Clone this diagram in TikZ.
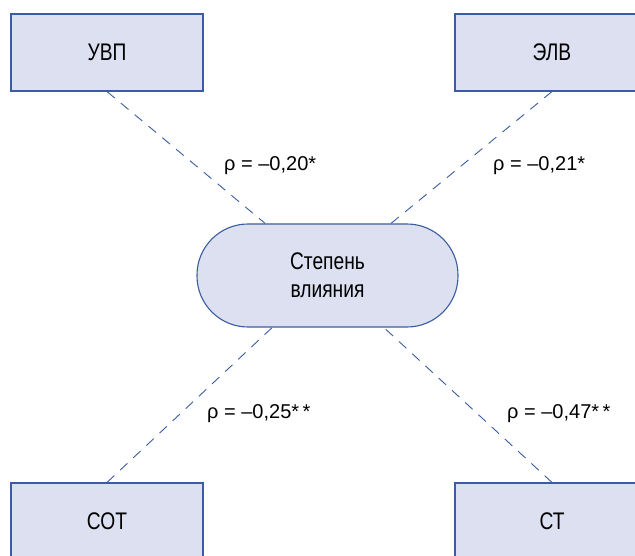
\documentclass[tikz,border=0pt]{standalone}
\usepackage{fontspec}
\setmainfont{Liberation Sans}
\newfontfamily\narrowfont[FakeStretch=0.8]{Liberation Sans}
\definecolor{boxfill}{RGB}{220,224,241}
\definecolor{boxline}{RGB}{58,92,160}
\tikzset{
  box/.style={draw=boxline, fill=boxfill, line width=1.1pt, minimum width=192pt,
    minimum height=77pt, inner sep=0pt, font=\narrowfont\fontsize{24}{28}\selectfont},
  infl/.style={box, rounded corners=51pt, minimum width=261pt, minimum height=103pt, align=center},
  corr/.style={draw=boxline, line width=0.9pt, dash pattern=on 10pt off 8pt},
  rho/.style={anchor=base west, inner sep=0pt, font=\fontsize{20}{24}\selectfont}
}

\begin{document}
\begin{tikzpicture}
  [x=1pt, y=-1pt]
  \useasboundingbox (0,0) rectangle (635,556);
  \clip (0,0) rectangle (635,556);
  \node[box] (uvp) at (107,52.5) {УВП};
  \node[box, minimum width=194pt] (elv) at (552,52.5) {ЭЛВ};
  \node[box] (sot) at (107,521.5) {СОТ};
  \node[box, minimum width=194pt] (st) at (552,521.5) {СТ};
  \node[infl] (deg) at (327.5,275.5) {Степень\\влияния};

  \foreach \n/\a in {uvp/south,elv/south,sot/north,st/north}
  \draw[corr] (\n.\a) -- (deg);

  \node[rho] (r1) at (224,171) {ρ = –0,20*};
  \node[rho] (r2) at (493,171) {ρ = –0,21*};
  \node[rho] (r3) at (207,418) {ρ = –0,25*\,*};
  \node[rho] (r4) at (507,418) {ρ = –0,47*\,*};
\end{tikzpicture}
\end{document}
